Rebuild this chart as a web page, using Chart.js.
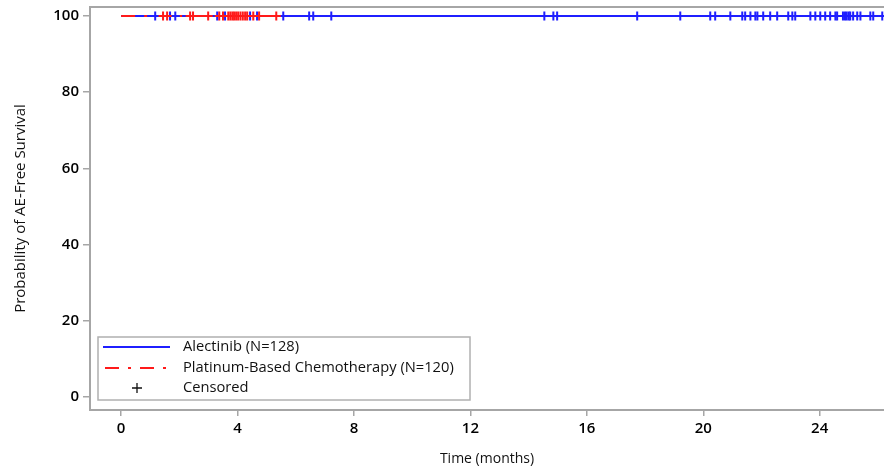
<!DOCTYPE html>
<html>
<head>
<meta charset="utf-8">
<script src="https://cdn.jsdelivr.net/npm/chart.js@4"></script>
<style>
  html, body { margin: 0; padding: 0; background: #fff; overflow: hidden; }
  #wrap { width: 884px; height: 470px; position: relative; }
  #km { display: block; }
</style>
</head>
<body>
<div id="wrap"><canvas id="km"></canvas></div>
<script>
// KM curves (time in months, probability in %)
const alecTime = [0, 26.2];
const alecSurv = [100, 100];
const chemoTime = [0, 5.33];
const chemoSurv = [100, 100];

// censored times
const alecCensor = [1.17, 1.68, 1.86, 3.30, 3.57, 4.43, 4.67, 5.57, 6.46, 6.60, 7.22,
    14.54, 14.85, 14.98, 17.73, 19.21, 20.24, 20.41, 20.93, 21.34, 21.44, 21.62, 21.79,
    21.86, 22.06, 22.30, 22.54, 22.92, 23.06, 23.16, 23.68, 23.85, 24.02, 24.19, 24.36,
    24.54, 24.60, 24.80, 24.87, 24.93, 25.00, 25.05, 25.15, 25.29, 25.40, 25.74, 25.84, 26.15];
const chemoCensor = [1.44, 1.58, 2.37, 2.47, 2.99, 3.37, 3.50, 3.68, 3.75, 3.82, 3.88,
    3.95, 4.02, 4.10, 4.18, 4.26, 4.33, 4.54, 4.74, 5.33];

const xTickValues = [0, 4, 8, 12, 16, 20, 24];
const yTickValues = [0, 20, 40, 60, 80, 100];

const legendLabels = ['Alectinib (N=128)', 'Platinum-Based Chemotherapy (N=120)', 'Censored'];

const BLUE = '#1f1fff';
const RED = '#ff1a1a';
const AXIS = '#a6a6a6';
const CHEMO_DASH = [14, 9, 3, 9];

function pts(xs, ys) {
    return xs.map((x, i) => ({ x: x, y: ys[i] }));
}
function censorPts(xs) {
    return xs.map(x => ({ x: x, y: 100 }));
}

// frame line on top + legend box inside the plot
const framePlugin = {
    id: 'frame',
    afterDraw(chart) {
        const ctx = chart.ctx;
        const a = chart.chartArea;
        ctx.save();
        ctx.strokeStyle = AXIS;
        ctx.lineWidth = 2;
        ctx.beginPath();
        ctx.moveTo(a.left, a.top);
        ctx.lineTo(a.right, a.top);
        ctx.stroke();

        // legend
        const bx = a.left + 8, by = a.bottom - 73, bw = 372, bh = 63;
        ctx.fillStyle = '#fff';
        ctx.fillRect(bx, by, bw, bh);
        ctx.strokeStyle = '#b0b0b0';
        ctx.lineWidth = 1.5;
        ctx.strokeRect(bx, by, bw, bh);

        const rows = [by + 10, by + 31, by + 51];
        ctx.lineWidth = 2;
        ctx.strokeStyle = BLUE;
        ctx.beginPath();
        ctx.moveTo(bx + 5, rows[0]);
        ctx.lineTo(bx + 72, rows[0]);
        ctx.stroke();

        ctx.strokeStyle = RED;
        ctx.setLineDash(CHEMO_DASH);
        ctx.beginPath();
        ctx.moveTo(bx + 7, rows[1]);
        ctx.lineTo(bx + 72, rows[1]);
        ctx.stroke();
        ctx.setLineDash([]);

        ctx.strokeStyle = '#111';
        ctx.lineWidth = 1.3;
        ctx.beginPath();
        ctx.moveTo(bx + 39, rows[2] - 5);
        ctx.lineTo(bx + 39, rows[2] + 5);
        ctx.moveTo(bx + 34, rows[2]);
        ctx.lineTo(bx + 44, rows[2]);
        ctx.stroke();

        ctx.fillStyle = '#111';
        ctx.font = '14.7px "Open Sans"';
        ctx.textBaseline = 'middle';
        ctx.textAlign = 'left';
        legendLabels.forEach((t, i) => ctx.fillText(t, bx + 85, rows[i]));
        ctx.restore();
    }
};

Chart.defaults.font.family = '"Open Sans", sans-serif';
Chart.defaults.color = '#111';

new Chart(document.getElementById('km'), {
    type: 'scatter',
    data: {
        datasets: [
            {
                label: 'Chemo censored',
                data: censorPts(chemoCensor),
                pointStyle: 'cross',
                pointRadius: 4.5,
                borderColor: RED,
                backgroundColor: RED,
                borderWidth: 2
            },
            {
                label: 'Alectinib censored',
                data: censorPts(alecCensor),
                pointStyle: 'cross',
                pointRadius: 4.5,
                borderColor: BLUE,
                backgroundColor: BLUE,
                borderWidth: 2
            },
            {
                label: 'Platinum-Based Chemotherapy (N=120)',
                data: pts(chemoTime, chemoSurv),
                showLine: true,
                stepped: true,
                pointRadius: 0,
                borderColor: RED,
                borderWidth: 2,
                borderDash: CHEMO_DASH
            },
            {
                label: 'Alectinib (N=128)',
                data: pts(alecTime, alecSurv),
                showLine: true,
                stepped: true,
                pointRadius: 0,
                borderColor: BLUE,
                borderWidth: 2
            }
        ]
    },
    options: {
        responsive: true,
        maintainAspectRatio: false,
        animation: false,
        layout: { autoPadding: false, padding: { top: 7, right: 0, left: 0, bottom: 0 } },
        plugins: {
            legend: { display: false },
            tooltip: { enabled: false }
        },
        scales: {
            x: {
                type: 'linear',
                min: -1.07,
                max: 26.21,
                afterBuildTicks: (s) => { s.ticks = xTickValues.map(v => ({ value: v })); },
                afterFit: (s) => { s.height = 60; s.paddingLeft = 0; s.paddingRight = 0; },
                grid: { display: true, drawOnChartArea: false, tickLength: 6, color: AXIS, lineWidth: 1.5 },
                border: { display: true, color: AXIS, width: 2 },
                ticks: { padding: 4, maxRotation: 0, font: { size: 15, weight: '600' }, color: '#000' },
                title: {
                    display: true,
                    text: 'Time (months)',
                    font: { size: 14 },
                    padding: { top: 0, bottom: 3 },
                    color: '#111'
                }
            },
            y: {
                type: 'linear',
                min: -3.41,
                max: 102.36,
                afterBuildTicks: (s) => { s.ticks = yTickValues.map(v => ({ value: v })); },
                afterFit: (s) => { s.width = 90; s.paddingTop = 0; s.paddingBottom = 0; },
                grid: { display: true, drawOnChartArea: false, tickLength: 7, color: AXIS, lineWidth: 1.5 },
                border: { display: true, color: AXIS, width: 2 },
                ticks: { padding: 4, font: { size: 15, weight: '600' }, color: '#000' },
                title: {
                    display: true,
                    text: 'Probability of AE-Free Survival',
                    font: { size: 15 },
                    padding: { top: 12, bottom: 0 },
                    color: '#111'
                }
            }
        }
    },
    plugins: [framePlugin]
});
</script>
</body>
</html>
